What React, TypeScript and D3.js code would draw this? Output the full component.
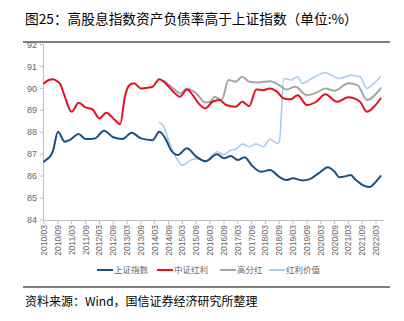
import React from "react";
import * as d3 from "d3";

const TITLE = "图25：高股息指数资产负债率高于上证指数（单位:%）";
const SOURCE = "资料来源：Wind，国信证券经济研究所整理";
const SERIES_NAMES = ["上证指数", "中证红利", "高分红", "红利价值"];
const SERIES_COLORS = ["#1B4F80", "#E3101D", "#A6A6A6", "#A9CBF2"];
const Y_TICKS = [84, 85, 86, 87, 88, 89, 90, 91, 92];
const X_TICK_LABELS = [
  "2010/03", "2010/09", "2011/03", "2011/09", "2012/03", "2012/09", "2013/03", "2013/09",
  "2014/03", "2014/09", "2015/03", "2015/09", "2016/03", "2016/09", "2017/03", "2017/09",
  "2018/03", "2018/09", "2019/03", "2019/09", "2020/03", "2020/09", "2021/03", "2021/09", "2022/03",
];

const SZZS: [string, number][] = [
  ["2010-03", 86.66], ["2010-04", 86.75], ["2010-06", 86.95], ["2010-07", 87.2], ["2010-09", 88.02],
  ["2010-12", 87.57], ["2011-02", 87.64], ["2011-06", 87.92], ["2011-09", 87.69], ["2012-01", 87.72],
  ["2012-05", 88.07], ["2012-09", 87.77], ["2013-01", 87.69], ["2013-05", 87.98], ["2013-09", 87.72],
  ["2014-02", 87.64], ["2014-05", 88.02], ["2014-08", 87.64], ["2014-10", 87.19], ["2015-01", 86.96],
  ["2015-05", 87.27], ["2015-09", 86.89], ["2016-01", 86.68], ["2016-06", 87.0], ["2016-09", 86.81],
  ["2016-12", 86.92], ["2017-03", 86.73], ["2017-06", 86.86], ["2017-09", 86.5], ["2018-01", 86.2],
  ["2018-05", 86.28], ["2018-09", 85.97], ["2018-12", 85.82], ["2019-03", 85.9], ["2019-07", 85.8],
  ["2019-10", 85.85], ["2020-01", 86.05], ["2020-03", 86.2], ["2020-06", 86.4], ["2020-09", 86.2],
  ["2020-11", 85.95], ["2021-02", 86.0], ["2021-04", 86.05], ["2021-06", 85.85], ["2021-09", 85.6],
  ["2021-12", 85.5], ["2022-03", 85.75], ["2022-05", 86.0],
];

const ZZHL: [string, number][] = [
  ["2010-03", 90.23], ["2010-05", 90.38], ["2010-07", 90.42], ["2010-09", 90.3], ["2010-10", 90.2],
  ["2010-12", 89.62], ["2011-03", 88.93], ["2011-06", 89.34], ["2011-09", 89.13], ["2011-12", 89.04],
  ["2012-03", 88.63], ["2012-06", 88.89], ["2012-09", 88.63], ["2012-12", 88.37], ["2013-02", 89.62],
  ["2013-04", 90.15], ["2013-06", 90.23], ["2013-09", 90.0], ["2013-12", 90.03], ["2014-02", 90.07],
  ["2014-05", 90.42], ["2014-08", 90.2], ["2014-11", 89.85], ["2015-02", 89.62], ["2015-05", 89.95],
  ["2015-08", 89.62], ["2015-10", 89.32], ["2016-01", 89.09], ["2016-04", 89.39], ["2016-07", 89.47],
  ["2016-10", 89.24], ["2017-02", 89.16], ["2017-05", 89.39], ["2017-08", 89.19], ["2017-11", 89.95],
  ["2018-02", 89.92], ["2018-05", 90.0], ["2018-08", 89.85], ["2018-11", 89.54], ["2019-02", 89.5],
  ["2019-05", 89.69], ["2019-09", 89.24], ["2020-01", 89.39], ["2020-05", 89.73], ["2020-10", 89.39],
  ["2021-03", 89.59], ["2021-08", 89.39], ["2021-11", 88.93], ["2022-02", 89.16], ["2022-05", 89.54],
];

const GFH: [string, number][] = [
  ["2014-07", 90.35], ["2014-11", 90.0], ["2015-02", 89.77], ["2015-05", 90.0], ["2015-09", 89.77],
  ["2016-01", 89.36], ["2016-03", 89.39], ["2016-05", 89.62], ["2016-08", 89.47], ["2016-11", 90.38],
  ["2017-02", 90.3], ["2017-05", 90.53], ["2017-08", 90.3], ["2017-12", 90.27], ["2018-05", 90.33],
  ["2018-09", 90.15], ["2018-12", 89.95], ["2019-04", 90.07], ["2019-09", 89.69], ["2020-01", 89.8],
  ["2020-05", 90.0], ["2020-09", 89.89], ["2021-03", 90.23], ["2021-07", 90.15], ["2021-11", 89.47],
  ["2022-05", 90.0],
];

const HLJZ: [string, number][] = [
  ["2014-05", 88.45], ["2014-07", 88.25], ["2014-09", 87.64], ["2014-12", 86.89], ["2015-03", 86.5],
  ["2015-07", 86.75], ["2015-10", 86.8], ["2016-01", 86.66], ["2016-04", 86.96], ["2016-06", 87.11],
  ["2016-09", 86.98], ["2016-12", 87.19], ["2017-02", 87.22], ["2017-05", 87.46], ["2017-08", 87.34],
  ["2017-11", 87.46], ["2018-02", 87.34], ["2018-05", 87.68], ["2018-08", 87.5], ["2018-09", 87.55],
  ["2018-11", 90.45], ["2019-02", 90.38], ["2019-05", 90.53], ["2019-07", 90.23], ["2019-11", 90.45],
  ["2020-05", 90.71], ["2020-11", 90.45], ["2021-04", 90.6], ["2021-08", 90.53], ["2021-11", 90.0],
  ["2022-02", 90.23], ["2022-05", 90.53],
];

const SERIES = [SZZS, ZZHL, GFH, HLJZ];
const DRAW_ORDER = [3, 2, 1, 0];

const W = 404;
const H = 321;
const parseMonth = d3.timeParse("%Y-%m");
const parseTick = d3.timeParse("%Y/%m");

export default function App() {
  const x = d3
    .scaleTime()
    .domain([parseMonth("2010-03") as Date, parseMonth("2022-03") as Date])
    .range([44, 376]);
  const y = d3.scaleLinear().domain([84, 92]).range([220, 44.5]);
  const line = d3
    .line<[string, number]>()
    .x((d) => x(parseMonth(d[0]) as Date))
    .y((d) => y(d[1]))
    .curve(d3.curveMonotoneX);

  const axisColor = "#BFBFBF";
  const labelColor = "#666666";
  const tickFont = "'Liberation Sans Narrow', 'Liberation Sans', Arial, sans-serif";
  const cjk = "'Noto Sans CJK SC', sans-serif";

  const legendX = [97, 157, 220, 269];

  return (
    <div style={{ position: "absolute", left: 0, top: 0 }}>
      <svg width={W} height={H} style={{ display: "block", background: "#fff" }}>
        <text x={25} y={24} fontFamily={cjk} fontSize={13.7} fill="#000">
          {TITLE}
        </text>
        <line x1={23} x2={390} y1={42} y2={42} stroke="#000" strokeWidth={1.2} />

        {/* y axis */}
        <line x1={43.5} x2={43.5} y1={y(92)} y2={y(84)} stroke={axisColor} strokeWidth={1} />
        {Y_TICKS.map((t) => (
          <g key={t}>
            <line x1={40} x2={43.5} y1={y(t)} y2={y(t)} stroke={axisColor} />
            <text
              x={37}
              y={y(t)}
              dy="0.35em"
              textAnchor="end"
              fontFamily={tickFont}
              fontSize={9}
              fill={labelColor}
            >
              {t}
            </text>
          </g>
        ))}

        {/* x axis */}
        <line x1={43.5} x2={384} y1={220.5} y2={220.5} stroke={axisColor} strokeWidth={1} />
        {X_TICK_LABELS.map((lab) => {
          const xx = x(parseTick(lab) as Date);
          return (
            <g key={lab}>
              <line x1={xx} x2={xx} y1={220.5} y2={224} stroke={axisColor} />
              <text
                transform={`translate(${xx + 3},${225}) rotate(-90)`}
                textAnchor="end"
                fontFamily={tickFont}
                fontSize={8.5}
                fill={labelColor}
              >
                {lab}
              </text>
            </g>
          );
        })}

        {/* series */}
        {DRAW_ORDER.map((i) => (
          <path
            key={i}
            d={line(SERIES[i]) || ""}
            fill="none"
            stroke={SERIES_COLORS[i]}
            strokeWidth={i === 3 ? 1.6 : 2}
            strokeLinejoin="round"
            strokeLinecap="round"
          />
        ))}

        {/* legend */}
        {SERIES_NAMES.map((n, i) => (
          <g key={n}>
            <line
              x1={legendX[i]}
              x2={legendX[i] + 16}
              y1={270}
              y2={270}
              stroke={SERIES_COLORS[i]}
              strokeWidth={2}
            />
            <text
              x={legendX[i] + 17}
              y={270}
              dy="0.35em"
              fontFamily={cjk}
              fontSize={8.5}
              fill={labelColor}
            >
              {n}
            </text>
          </g>
        ))}

        <line x1={23} x2={390} y1={287} y2={287} stroke="#000" strokeWidth={1} />
        <text x={25} y={306} fontFamily={cjk} fontSize={12} fill="#000">
          {SOURCE}
        </text>
      </svg>
    </div>
  );
}
